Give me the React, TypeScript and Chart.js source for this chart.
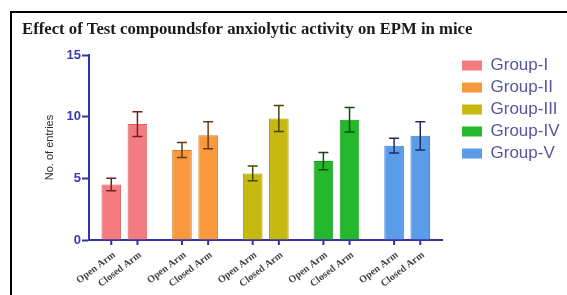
import React, { useEffect, useRef } from "react";
import { Chart, registerables } from "chart.js";

Chart.register(...registerables);

const titleText = "Effect of Test compoundsfor anxiolytic activity on EPM in mice";
const groups = ["Group-I", "Group-II", "Group-III", "Group-IV", "Group-V"];
const armLabels = ["Open Arm", "Closed Arm"];
const openArm = [4.5, 7.3, 5.4, 6.4, 7.65];
const closedArm = [9.4, 8.5, 9.85, 9.75, 8.45];
const openErr = [0.5, 0.6, 0.6, 0.7, 0.6];
const closedErr = [1.0, 1.1, 1.05, 1.0, 1.15];
const yMin = 0;
const yMax = 15;
const yStep = 5;

const fillColors = ["#f47c80", "#f7993c", "#c6b910", "#26b82c", "#5b9ce8"];
const borderColors = ["#d86065", "#d97f2a", "#a59a00", "#1a981f", "#3f80d0"];
const errColors = ["#6e2222", "#6a3a12", "#4a4600", "#0c4a10", "#1c2c6a"];
const axisColor = "#3232a6";

const errorsAndLabels = {
  id: "errorsAndLabels",
  afterLayout(chart: any) {
    const lg = chart.legend;
    if (lg) {
      const shift = 462 - 5 - lg.left;
      lg.left += shift;
      lg.right += shift;
      lg.top -= 3;
      lg.bottom -= 3;
    }
  },
  afterDatasetsDraw(chart: any) {
    const ctx = chart.ctx;
    const ys = chart.scales.y;
    const errs = [openErr, closedErr];
    ctx.save();
    errs.forEach((arr, d) => {
      const meta = chart.getDatasetMeta(d);
      meta.data.forEach((bar: any, i: number) => {
        const v = chart.data.datasets[d].data[i];
        const top = ys.getPixelForValue(v + arr[i]);
        const bot = ys.getPixelForValue(v - arr[i]);
        ctx.strokeStyle = errColors[i];
        ctx.lineWidth = 1.5;
        ctx.beginPath();
        ctx.moveTo(bar.x, top);
        ctx.lineTo(bar.x, bot);
        ctx.moveTo(bar.x - 5, top);
        ctx.lineTo(bar.x + 5, top);
        ctx.moveTo(bar.x - 5, bot);
        ctx.lineTo(bar.x + 5, bot);
        ctx.stroke();
      });
    });
    ctx.restore();
  },
  afterDraw(chart: any) {
    const ctx = chart.ctx;
    const bottom = chart.chartArea.bottom;
    ctx.save();
    [0, 1].forEach((d) => {
      const meta = chart.getDatasetMeta(d);
      meta.data.forEach((bar: any) => {
        ctx.strokeStyle = axisColor;
        ctx.lineWidth = 2;
        ctx.beginPath();
        ctx.moveTo(bar.x, bottom);
        ctx.lineTo(bar.x, bottom + 5);
        ctx.stroke();
        ctx.save();
        ctx.translate(bar.x + 3, bottom + 14);
        ctx.rotate((-37 * Math.PI) / 180);
        ctx.fillStyle = "#444444";
        ctx.font = "bold 10px 'Liberation Serif', 'Times New Roman', serif";
        ctx.textAlign = "right";
        ctx.textBaseline = "middle";
        ctx.fillText(armLabels[d], 0, 0);
        ctx.restore();
      });
    });
    ctx.restore();
  },
};

export default function App() {
  const ref = useRef<HTMLCanvasElement>(null);
  useEffect(() => {
    if (!ref.current) return;
    const chart = new Chart(ref.current, {
      type: "bar",
      data: {
        labels: groups,
        datasets: [
          {
            label: armLabels[0],
            data: openArm,
            backgroundColor: fillColors,
            borderColor: borderColors,
            borderWidth: 1,
            categoryPercentage: 0.74,
            barPercentage: 0.75,
          },
          {
            label: armLabels[1],
            data: closedArm,
            backgroundColor: fillColors,
            borderColor: borderColors,
            borderWidth: 1,
            categoryPercentage: 0.74,
            barPercentage: 0.75,
          },
        ],
      },
      options: {
        animation: false,
        responsive: false,
        maintainAspectRatio: false,
        layout: { padding: { left: 22, right: 12, top: 0, bottom: 0 } },
        plugins: {
          title: {
            display: true,
            text: titleText,
            align: "start",
            color: "#1a1a1a",
            font: { family: "'Liberation Serif', 'Times New Roman', serif", size: 16.7, weight: "bold", lineHeight: 1.2 },
            padding: { top: 20, bottom: 15 },
          },
          legend: {
            display: true,
            position: "right",
            align: "start",
            fullSize: false,
            labels: {
              boxWidth: 20,
              boxHeight: 10,
              padding: 5,
              color: "#55559e",
              font: { family: "'Liberation Sans', Arial, sans-serif", size: 17 },
              generateLabels: () =>
                groups.map((g, i) => ({
                  text: g,
                  fillStyle: fillColors[i],
                  strokeStyle: fillColors[i],
                  lineWidth: 0,
                  hidden: false,
                  index: i,
                  datasetIndex: 0,
                  fontColor: "#55559e",
                })),
            },
          },
          tooltip: { enabled: false },
        },
        scales: {
          x: {
            grid: { display: false },
            border: { display: true, color: axisColor, width: 2 },
            ticks: { display: false },
            afterFit: (s: any) => {
              s.height = 55;
            },
          },
          y: {
            min: yMin,
            max: yMax,
            ticks: {
              stepSize: yStep,
              color: "#3a3ab0",
              padding: 1,
              font: { family: "'Liberation Sans', Arial, sans-serif", size: 13, weight: "bold" },
            },
            grid: {
              display: true,
              drawOnChartArea: false,
              drawTicks: true,
              tickLength: 7,
              tickWidth: 2,
              tickColor: axisColor,
              color: axisColor,
            },
            border: { display: true, color: axisColor, width: 2 },
            title: {
              display: true,
              text: "No. of entries",
              color: "#2a2a2a",
              font: { family: "'Liberation Sans', Arial, sans-serif", size: 11, lineHeight: 1.2 },
              padding: { top: 21, bottom: 0 },
            },
            afterFit: (s: any) => {
              s.width = 67;
            },
          },
        },
      },
      plugins: [errorsAndLabels],
    });
    return () => chart.destroy();
  }, []);

  return (
    <div style={{ position: "fixed", left: 0, top: 0, width: 567, height: 295, background: "#fff" }}>
      <div
        style={{
          position: "absolute",
          left: 10,
          top: 11,
          width: 600,
          height: 320,
          borderLeft: "2px solid #000",
          borderTop: "2px solid #000",
        }}
      />
      <canvas ref={ref} width={567} height={295} style={{ position: "absolute", left: 0, top: 0 }} />
    </div>
  );
}
